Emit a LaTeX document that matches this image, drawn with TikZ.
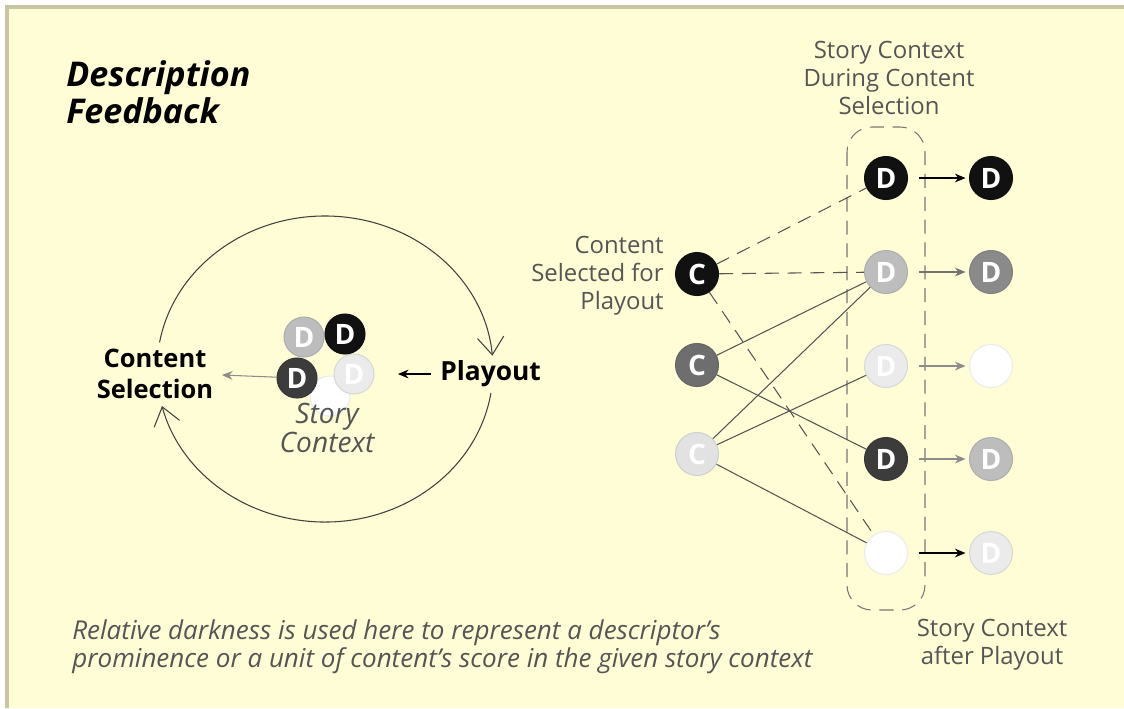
\documentclass[tikz,border=0pt]{standalone}
\usepackage{fontspec}
\setmainfont{Open Sans}
\usetikzlibrary{arrows.meta}

\definecolor{paper}{HTML}{FFFDD6}
\definecolor{rim}{HTML}{C8C5A2}
\definecolor{ink}{HTML}{555555}
\definecolor{tone0}{HTML}{FFFFFF}
\definecolor{tone1}{HTML}{EBEBEB}
\definecolor{tone2}{HTML}{BDBDBD}
\definecolor{tone3}{HTML}{8A8A8A}
\definecolor{tone4}{HTML}{6E6E6E}
\definecolor{tone5}{HTML}{3C3C3C}
\definecolor{tone6}{HTML}{111111}

\begin{document}
\begin{tikzpicture}[x=0.02cm, y=-0.02cm,
  every node/.style={inner sep=0pt},
  disc/.style={
    circle,
    fill=#1,
    draw=#1!92!black,
    line width=0.6pt,
    minimum size=0.86cm,
    text=white,
    font=\fontsize{16}{16}\selectfont\bfseries,
  },
  smalldisc/.style={disc=#1, minimum size=0.8cm},
  label/.style={text=ink, align=center, font=\fontsize{13.6}{16}\selectfont},
  link/.style={ink, line width=0.6pt},
  dlink/.style={link, dash pattern=on 8pt off 5pt},
  loop/.style={black!75, line width=0.6pt, -{Straight Barb[length=10pt,width=15pt]}},
  step arrow/.style={line width=0.6pt, -{Stealth[length=6pt,width=5pt]}},
]

  \useasboundingbox (0,0) rectangle (1124,708);
  \fill[paper] (7,7) rectangle (1124,708);
  \draw[rim, line width=2.2pt] (7,708) -- (7,7) -- (1124,7);

  % title
  \node[anchor=north west, align=left, font=\fontsize{19.4}{21}\selectfont\bfseries\itshape] (title)
    at (66,60) {Description\\Feedback};

  % feedback loop
  \draw[loop] (325,369) ++(190:168 and 153) arc[start angle=190, end angle=355, x radius=168, y radius=153];
  \draw[loop] (325,369) ++(9:168 and 153) arc[start angle=9, end angle=166, x radius=168, y radius=153];

  \node[align=center, font=\fontsize{14.5}{18}\selectfont\bfseries] (sel) at (155,374) {Content\\Selection};
  \node[font=\fontsize{15}{18}\selectfont\bfseries, anchor=west] (play) at (440,374) {Playout};

  % story context cluster
  \node[smalldisc=tone0] (k5) at (330,396) {};
  \node[smalldisc=tone1] (k4) at (354,374) {D};
  \node[smalldisc=tone2] (k1) at (304,337) {D};
  \node[smalldisc=tone6] (k2) at (345,334) {D};
  \node[smalldisc=tone5] (k3) at (297,378) {D};
  \node[label, font=\fontsize{16}{17}\selectfont\itshape] (ctx) at (327,428) {Story\\Context};

  \draw[step arrow, black!45] (k3) -- (222,375);
  \draw[step arrow, shorten <=5pt] (play) -- (398,374);

  % right side labels
  \node[label] (during) at (889,78) {Story Context\\During Content\\Selection};
  \node[label, align=right, anchor=east] (chosen) at (664,276) {Content\\Selected for\\Playout};
  \node[label] (after) at (992,645) {Story Context\\after Playout};

  % story context box
  \draw[ink!80, line width=0.6pt, dash pattern=on 8pt off 5pt, rounded corners=0.5cm]
    (847,127) rectangle (925,610);

  % content
  \node[disc=tone6] (c1) at (697,274) {C};
  \node[disc=tone4] (c2) at (697,365) {C};
  \node[disc=tone1!80!tone2] (c3) at (697,454) {C};

  % descriptors during selection
  \node[disc=tone6] (d1) at (886,178) {D};
  \node[disc=tone2] (d2) at (886,272) {D};
  \node[disc=tone1] (d3) at (886,366) {D};
  \node[disc=tone5] (d4) at (886,459) {D};
  \node[disc=tone0] (d5) at (886,553) {};

  % descriptors after playout
  \node[disc=tone6] (e1) at (991,178) {D};
  \node[disc=tone3] (e2) at (991,272) {D};
  \node[disc=tone0] (e3) at (991,366) {};
  \node[disc=tone2] (e4) at (991,459) {D};
  \node[disc=tone1] (e5) at (991,553) {D};

  \draw[dlink] (c1) -- (d1);
  \draw[dlink] (c1) -- (d2);
  \draw[dlink] (c1) -- (d5);
  \draw[link] (c2) -- (d2);
  \draw[link] (c2) -- (d4);
  \draw[link] (c3) -- (d2);
  \draw[link] (c3) -- (d3);
  \draw[link] (c3) -- (d5);

  \draw[step arrow, shorten <=6pt, shorten >=2pt] (d1) -- (e1);
  \draw[step arrow, black!55, shorten <=6pt, shorten >=2pt] (d2) -- (e2);
  \draw[step arrow, black!45, shorten <=6pt, shorten >=2pt] (d3) -- (e3);
  \draw[step arrow, black!45, shorten <=6pt, shorten >=2pt] (d4) -- (e4);
  \draw[step arrow, line width=0.9pt, shorten <=6pt, shorten >=2pt] (d5) -- (e5);

  % note
  \node[label, align=left, anchor=north west, font=\fontsize{14.8}{16}\selectfont\itshape] (note)
    at (72,619) {Relative darkness is used here to represent a descriptor's\\prominence or a unit of content's score in the given story context};

\end{tikzpicture}
\end{document}
